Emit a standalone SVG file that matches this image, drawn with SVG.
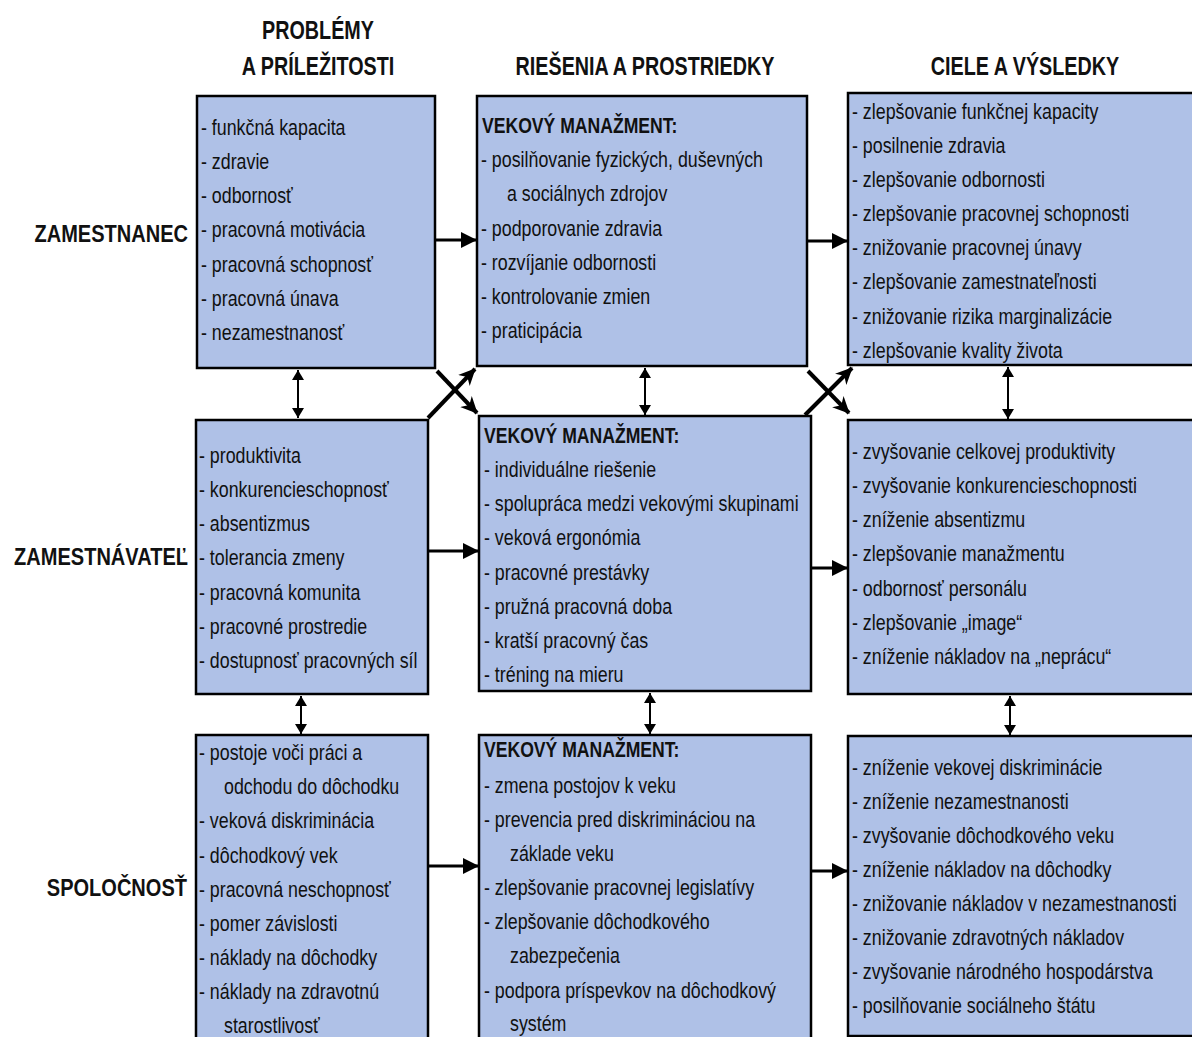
<svg xmlns="http://www.w3.org/2000/svg" width="1192" height="1037" viewBox="0 0 1192 1037">
<defs>
<style>
.box{fill:#afc1e7;stroke:#000;stroke-width:2.5}
.t{font-family:"Liberation Sans",Arial,sans-serif;font-size:22px;fill:#111}
.b{font-family:"Liberation Sans",Arial,sans-serif;font-size:22px;font-weight:bold;fill:#111}
.h{font-family:"Liberation Sans",Arial,sans-serif;font-size:25px;font-weight:bold;fill:#111;text-anchor:middle}
.r{font-family:"Liberation Sans",Arial,sans-serif;font-size:24px;font-weight:bold;fill:#111;text-anchor:end}
.a{stroke:#000;stroke-width:3;fill:none}
.v{stroke:#000;stroke-width:2;fill:none}
.x{stroke:#000;stroke-width:4;fill:none}
</style>
<marker id="ah" viewBox="0 0 16 16" refX="16" refY="8" markerWidth="16" markerHeight="16" markerUnits="userSpaceOnUse" orient="auto-start-reverse"><path d="M0,0 L16,8 L0,16 Z" fill="#000"/></marker>
<marker id="vh" viewBox="0 0 10 12" refX="10" refY="6" markerWidth="10" markerHeight="12" markerUnits="userSpaceOnUse" orient="auto-start-reverse"><path d="M0,0 L10,6 L0,12 Z" fill="#000"/></marker>
<marker id="xh" viewBox="0 0 18 18" refX="16" refY="9" markerWidth="18" markerHeight="18" markerUnits="userSpaceOnUse" orient="auto"><path d="M0,1 L17,9 L0,17 L5,9 Z" fill="#000"/></marker>
</defs>
<rect width="1192" height="1037" fill="#fff"/>

<g id="headers">
<text class="h" transform="translate(318,39) scale(0.79,1)">PROBLÉMY</text>
<text class="h" transform="translate(318,75) scale(0.79,1)">A PRÍLEŽITOSTI</text>
<text class="h" transform="translate(645,75) scale(0.79,1)">RIEŠENIA A PROSTRIEDKY</text>
<text class="h" transform="translate(1025,75) scale(0.79,1)">CIELE A VÝSLEDKY</text>
</g>

<g id="rowlabels">
<text class="r" transform="translate(188,242) scale(0.835,1)">ZAMESTNANEC</text>
<text class="r" transform="translate(188,565) scale(0.835,1)">ZAMESTNÁVATEĽ</text>
<text class="r" transform="translate(187,896) scale(0.835,1)">SPOLOČNOSŤ</text>
</g>

<g id="connectors">
<line class="a" x1="436" y1="240" x2="477" y2="240" marker-end="url(#ah)"/>
<line class="a" x1="807" y1="241" x2="848" y2="241" marker-end="url(#ah)"/>
<line class="a" x1="428" y1="551" x2="479" y2="551" marker-end="url(#ah)"/>
<line class="a" x1="811" y1="568" x2="848" y2="568" marker-end="url(#ah)"/>
<line class="a" x1="428" y1="866" x2="479" y2="866" marker-end="url(#ah)"/>
<line class="a" x1="811" y1="871" x2="848" y2="871" marker-end="url(#ah)"/>
<line class="v" x1="298" y1="370" x2="298" y2="418" marker-start="url(#vh)" marker-end="url(#vh)"/>
<line class="v" x1="301" y1="696" x2="301" y2="734" marker-start="url(#vh)" marker-end="url(#vh)"/>
<line class="v" x1="645" y1="368" x2="645" y2="415" marker-start="url(#vh)" marker-end="url(#vh)"/>
<line class="v" x1="650" y1="693" x2="650" y2="734" marker-start="url(#vh)" marker-end="url(#vh)"/>
<line class="v" x1="1008" y1="367" x2="1008" y2="419" marker-start="url(#vh)" marker-end="url(#vh)"/>
<line class="v" x1="1010" y1="696" x2="1010" y2="735" marker-start="url(#vh)" marker-end="url(#vh)"/>
<line class="x" x1="437" y1="371" x2="477" y2="413" marker-end="url(#xh)"/>
<line class="x" x1="428" y1="418" x2="475" y2="369" marker-end="url(#xh)"/>
<line class="x" x1="808" y1="371" x2="849" y2="413" marker-end="url(#xh)"/>
<line class="x" x1="805" y1="415" x2="852" y2="368" marker-end="url(#xh)"/>
</g>

<g id="n-problemy-zamestnanec">
<rect class="box" x="197" y="96" width="238" height="272"/>
<text class="t" transform="translate(201,135) scale(0.81,1)">- funkčná kapacita</text>
<text class="t" transform="translate(201,169) scale(0.81,1)">- zdravie</text>
<text class="t" transform="translate(201,203) scale(0.81,1)">- odbornosť</text>
<text class="t" transform="translate(201,237) scale(0.81,1)">- pracovná motivácia</text>
<text class="t" transform="translate(201,272) scale(0.81,1)">- pracovná schopnosť</text>
<text class="t" transform="translate(201,306) scale(0.81,1)">- pracovná únava</text>
<text class="t" transform="translate(201,340) scale(0.81,1)">- nezamestnanosť</text>
</g>

<g id="n-riesenia-zamestnanec">
<rect class="box" x="477" y="96" width="330" height="270"/>
<text class="b" transform="translate(482,133) scale(0.8,1)">VEKOVÝ MANAŽMENT:</text>
<text class="t" transform="translate(481,167) scale(0.81,1)">- posilňovanie fyzických, duševných</text>
<text class="t" transform="translate(507,201) scale(0.81,1)">a sociálnych zdrojov</text>
<text class="t" transform="translate(481,236) scale(0.81,1)">- podporovanie zdravia</text>
<text class="t" transform="translate(481,270) scale(0.81,1)">- rozvíjanie odbornosti</text>
<text class="t" transform="translate(481,304) scale(0.81,1)">- kontrolovanie zmien</text>
<text class="t" transform="translate(481,338) scale(0.81,1)">- praticipácia</text>
</g>

<g id="n-ciele-zamestnanec">
<rect class="box" x="848" y="93" width="346" height="272"/>
<text class="t" transform="translate(852,119) scale(0.81,1)">- zlepšovanie funkčnej kapacity</text>
<text class="t" transform="translate(852,153) scale(0.81,1)">- posilnenie zdravia</text>
<text class="t" transform="translate(852,187) scale(0.81,1)">- zlepšovanie odbornosti</text>
<text class="t" transform="translate(852,221) scale(0.81,1)">- zlepšovanie pracovnej schopnosti</text>
<text class="t" transform="translate(852,255) scale(0.81,1)">- znižovanie pracovnej únavy</text>
<text class="t" transform="translate(852,289) scale(0.81,1)">- zlepšovanie zamestnateľnosti</text>
<text class="t" transform="translate(852,324) scale(0.81,1)">- znižovanie rizika marginalizácie</text>
<text class="t" transform="translate(852,358) scale(0.81,1)">- zlepšovanie kvality života</text>
</g>

<g id="n-problemy-zamestnavatel">
<rect class="box" x="196" y="420" width="232" height="274"/>
<text class="t" transform="translate(199,463) scale(0.81,1)">- produktivita</text>
<text class="t" transform="translate(199,497) scale(0.81,1)">- konkurencieschopnosť</text>
<text class="t" transform="translate(199,531) scale(0.81,1)">- absentizmus</text>
<text class="t" transform="translate(199,565) scale(0.81,1)">- tolerancia zmeny</text>
<text class="t" transform="translate(199,600) scale(0.81,1)">- pracovná komunita</text>
<text class="t" transform="translate(199,634) scale(0.81,1)">- pracovné prostredie</text>
<text class="t" transform="translate(199,668) scale(0.81,1)">- dostupnosť pracovných síl</text>
</g>

<g id="n-riesenia-zamestnavatel">
<rect class="box" x="479" y="416" width="332" height="275"/>
<text class="b" transform="translate(484,443) scale(0.8,1)">VEKOVÝ MANAŽMENT:</text>
<text class="t" transform="translate(484,477) scale(0.81,1)">- individuálne riešenie</text>
<text class="t" transform="translate(484,511) scale(0.81,1)">- spolupráca medzi vekovými skupinami</text>
<text class="t" transform="translate(484,545) scale(0.81,1)">- veková ergonómia</text>
<text class="t" transform="translate(484,580) scale(0.81,1)">- pracovné prestávky</text>
<text class="t" transform="translate(484,614) scale(0.81,1)">- pružná pracovná doba</text>
<text class="t" transform="translate(484,648) scale(0.81,1)">- kratší pracovný čas</text>
<text class="t" transform="translate(484,682) scale(0.81,1)">- tréning na mieru</text>
</g>

<g id="n-ciele-zamestnavatel">
<rect class="box" x="848" y="420" width="346" height="274"/>
<text class="t" transform="translate(852,459) scale(0.81,1)">- zvyšovanie celkovej produktivity</text>
<text class="t" transform="translate(852,493) scale(0.81,1)">- zvyšovanie konkurencieschopnosti</text>
<text class="t" transform="translate(852,527) scale(0.81,1)">- zníženie absentizmu</text>
<text class="t" transform="translate(852,561) scale(0.81,1)">- zlepšovanie manažmentu</text>
<text class="t" transform="translate(852,596) scale(0.81,1)">- odbornosť personálu</text>
<text class="t" transform="translate(852,630) scale(0.81,1)">- zlepšovanie „image“</text>
<text class="t" transform="translate(852,664) scale(0.81,1)">- zníženie nákladov na „neprácu“</text>
</g>

<g id="n-problemy-spolocnost">
<rect class="box" x="196" y="735" width="232" height="310"/>
<text class="t" transform="translate(199,760) scale(0.81,1)">- postoje voči práci a</text>
<text class="t" transform="translate(224,794) scale(0.81,1)">odchodu do dôchodku</text>
<text class="t" transform="translate(199,828) scale(0.81,1)">- veková diskriminácia</text>
<text class="t" transform="translate(199,863) scale(0.81,1)">- dôchodkový vek</text>
<text class="t" transform="translate(199,897) scale(0.81,1)">- pracovná neschopnosť</text>
<text class="t" transform="translate(199,931) scale(0.81,1)">- pomer závislosti</text>
<text class="t" transform="translate(199,965) scale(0.81,1)">- náklady na dôchodky</text>
<text class="t" transform="translate(199,999) scale(0.81,1)">- náklady na zdravotnú</text>
<text class="t" transform="translate(224,1033) scale(0.81,1)">starostlivosť</text>
</g>

<g id="n-riesenia-spolocnost">
<rect class="box" x="479" y="735" width="332" height="310"/>
<text class="b" transform="translate(484,757) scale(0.8,1)">VEKOVÝ MANAŽMENT:</text>
<text class="t" transform="translate(484,793) scale(0.81,1)">- zmena postojov k veku</text>
<text class="t" transform="translate(484,827) scale(0.81,1)">- prevencia pred diskrimináciou na</text>
<text class="t" transform="translate(510,861) scale(0.81,1)">základe veku</text>
<text class="t" transform="translate(484,895) scale(0.81,1)">- zlepšovanie pracovnej legislatívy</text>
<text class="t" transform="translate(484,929) scale(0.81,1)">- zlepšovanie dôchodkového</text>
<text class="t" transform="translate(510,963) scale(0.81,1)">zabezpečenia</text>
<text class="t" transform="translate(484,998) scale(0.81,1)">- podpora príspevkov na dôchodkový</text>
<text class="t" transform="translate(510,1031) scale(0.81,1)">systém</text>
</g>

<g id="n-ciele-spolocnost">
<rect class="box" x="848" y="736" width="346" height="300"/>
<text class="t" transform="translate(852,775) scale(0.81,1)">- zníženie vekovej diskriminácie</text>
<text class="t" transform="translate(852,809) scale(0.81,1)">- zníženie nezamestnanosti</text>
<text class="t" transform="translate(852,843) scale(0.81,1)">- zvyšovanie dôchodkového veku</text>
<text class="t" transform="translate(852,877) scale(0.81,1)">- zníženie nákladov na dôchodky</text>
<text class="t" transform="translate(852,911) scale(0.81,1)">- znižovanie nákladov v nezamestnanosti</text>
<text class="t" transform="translate(852,945) scale(0.81,1)">- znižovanie zdravotných nákladov</text>
<text class="t" transform="translate(852,979) scale(0.81,1)">- zvyšovanie národného hospodárstva</text>
<text class="t" transform="translate(852,1013) scale(0.81,1)">- posilňovanie sociálneho štátu</text>
</g>
</svg>
